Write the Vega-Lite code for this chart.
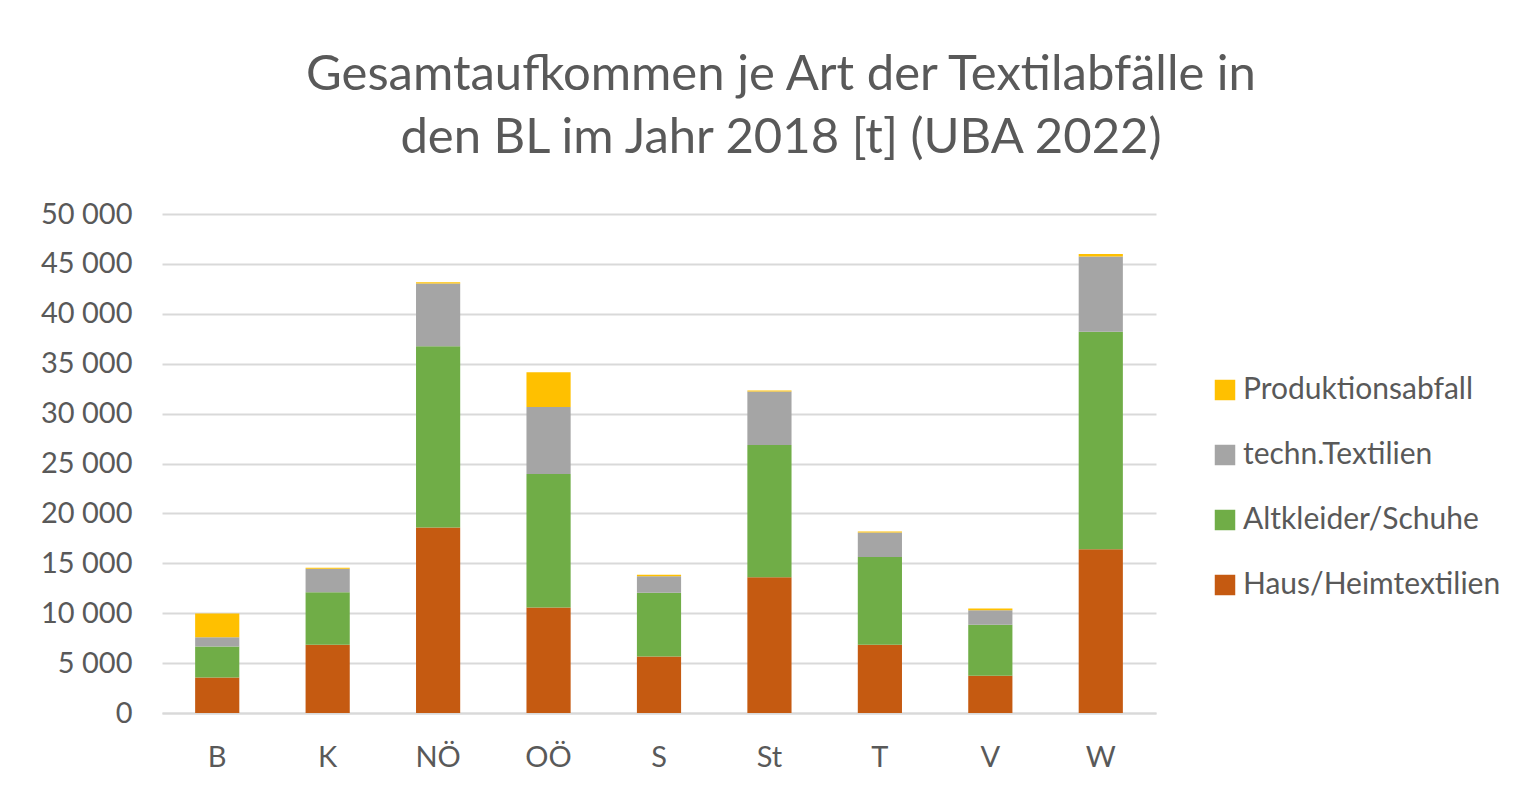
{
  "$schema": "https://vega.github.io/schema/vega-lite/v6.json",
  "width": 994,
  "height": 499,
  "autosize": {"type": "none"},
  "padding": {"left": 162, "top": 214, "right": 378, "bottom": 84},
  "background": "white",
  "config": {
    "font": "Lato",
    "view": {"stroke": null}
  },
  "title": {
    "text": ["Gesamtaufkommen  je Art der Textilabfälle in", "den BL im Jahr 2018 [t] (UBA 2022)"],
    "fontSize": 49,
    "fontWeight": "normal",
    "color": "#595959",
    "lineHeight": 63,
    "anchor": "middle",
    "dx": 122,
    "offset": 37
  },
  "data": {
    "values": [
      {"BL": "B", "Art": "Haus/Heimtextilien", "Stapel": 1, "t": 3550},
      {"BL": "B", "Art": "Altkleider/Schuhe", "Stapel": 2, "t": 3120},
      {"BL": "B", "Art": "techn.Textilien", "Stapel": 3, "t": 910},
      {"BL": "B", "Art": "Produktionsabfall", "Stapel": 4, "t": 2380},
      {"BL": "K", "Art": "Haus/Heimtextilien", "Stapel": 1, "t": 6840},
      {"BL": "K", "Art": "Altkleider/Schuhe", "Stapel": 2, "t": 5260},
      {"BL": "K", "Art": "techn.Textilien", "Stapel": 3, "t": 2360},
      {"BL": "K", "Art": "Produktionsabfall", "Stapel": 4, "t": 100},
      {"BL": "NÖ", "Art": "Haus/Heimtextilien", "Stapel": 1, "t": 18580},
      {"BL": "NÖ", "Art": "Altkleider/Schuhe", "Stapel": 2, "t": 18170},
      {"BL": "NÖ", "Art": "techn.Textilien", "Stapel": 3, "t": 6280},
      {"BL": "NÖ", "Art": "Produktionsabfall", "Stapel": 4, "t": 120},
      {"BL": "OÖ", "Art": "Haus/Heimtextilien", "Stapel": 1, "t": 10560},
      {"BL": "OÖ", "Art": "Altkleider/Schuhe", "Stapel": 2, "t": 13380},
      {"BL": "OÖ", "Art": "techn.Textilien", "Stapel": 3, "t": 6710},
      {"BL": "OÖ", "Art": "Produktionsabfall", "Stapel": 4, "t": 3490},
      {"BL": "S", "Art": "Haus/Heimtextilien", "Stapel": 1, "t": 5660},
      {"BL": "S", "Art": "Altkleider/Schuhe", "Stapel": 2, "t": 6380},
      {"BL": "S", "Art": "techn.Textilien", "Stapel": 3, "t": 1670},
      {"BL": "S", "Art": "Produktionsabfall", "Stapel": 4, "t": 140},
      {"BL": "St", "Art": "Haus/Heimtextilien", "Stapel": 1, "t": 13610},
      {"BL": "St", "Art": "Altkleider/Schuhe", "Stapel": 2, "t": 13250},
      {"BL": "St", "Art": "techn.Textilien", "Stapel": 3, "t": 5360},
      {"BL": "St", "Art": "Produktionsabfall", "Stapel": 4, "t": 100},
      {"BL": "T", "Art": "Haus/Heimtextilien", "Stapel": 1, "t": 6840},
      {"BL": "T", "Art": "Altkleider/Schuhe", "Stapel": 2, "t": 8780},
      {"BL": "T", "Art": "techn.Textilien", "Stapel": 3, "t": 2460},
      {"BL": "T", "Art": "Produktionsabfall", "Stapel": 4, "t": 100},
      {"BL": "V", "Art": "Haus/Heimtextilien", "Stapel": 1, "t": 3720},
      {"BL": "V", "Art": "Altkleider/Schuhe", "Stapel": 2, "t": 5130},
      {"BL": "V", "Art": "techn.Textilien", "Stapel": 3, "t": 1440},
      {"BL": "V", "Art": "Produktionsabfall", "Stapel": 4, "t": 170},
      {"BL": "W", "Art": "Haus/Heimtextilien", "Stapel": 1, "t": 16400},
      {"BL": "W", "Art": "Altkleider/Schuhe", "Stapel": 2, "t": 21800},
      {"BL": "W", "Art": "techn.Textilien", "Stapel": 3, "t": 7540},
      {"BL": "W", "Art": "Produktionsabfall", "Stapel": 4, "t": 240}
    ]
  },
  "mark": {"type": "bar"},
  "encoding": {
    "x": {
      "field": "BL",
      "type": "nominal",
      "sort": ["B", "K", "NÖ", "OÖ", "S", "St", "T", "V", "W"],
      "scale": {"paddingInner": 0.6, "paddingOuter": 0.3},
      "axis": {
        "title": null,
        "labelAngle": 0,
        "labelFontSize": 29,
        "labelColor": "#595959",
        "labelPadding": 30,
        "ticks": false,
        "domainColor": "#D9D9D9",
        "domainWidth": 2
      }
    },
    "y": {
      "field": "t",
      "type": "quantitative",
      "stack": "zero",
      "scale": {"domain": [0, 50000], "nice": false},
      "axis": {
        "title": null,
        "values": [0, 5000, 10000, 15000, 20000, 25000, 30000, 35000, 40000, 45000, 50000],
        "labelExpr": "replace(format(datum.value, ',d'), ',', ' ')",
        "labelFontSize": 29,
        "labelColor": "#595959",
        "labelPadding": 30,
        "ticks": false,
        "domain": false,
        "gridColor": "#D9D9D9",
        "gridWidth": 2
      }
    },
    "color": {
      "field": "Art",
      "type": "nominal",
      "scale": {
        "domain": ["Haus/Heimtextilien", "Altkleider/Schuhe", "techn.Textilien", "Produktionsabfall"],
        "range": ["#C55A11", "#70AD47", "#A5A5A5", "#FFC000"]
      },
      "legend": {
        "title": null,
        "values": ["Produktionsabfall", "techn.Textilien", "Altkleider/Schuhe", "Haus/Heimtextilien"],
        "orient": "none",
        "legendX": 1048,
        "legendY": 161,
        "symbolType": "square",
        "symbolSize": 420,
        "symbolStrokeWidth": 0,
        "symbolOpacity": 1,
        "labelFontSize": 30,
        "labelColor": "#595959",
        "labelOffset": 3,
        "rowPadding": 35,
        "labelLimit": 400
      }
    },
    "order": {"field": "Stapel", "type": "quantitative", "sort": "ascending"}
  }
}
